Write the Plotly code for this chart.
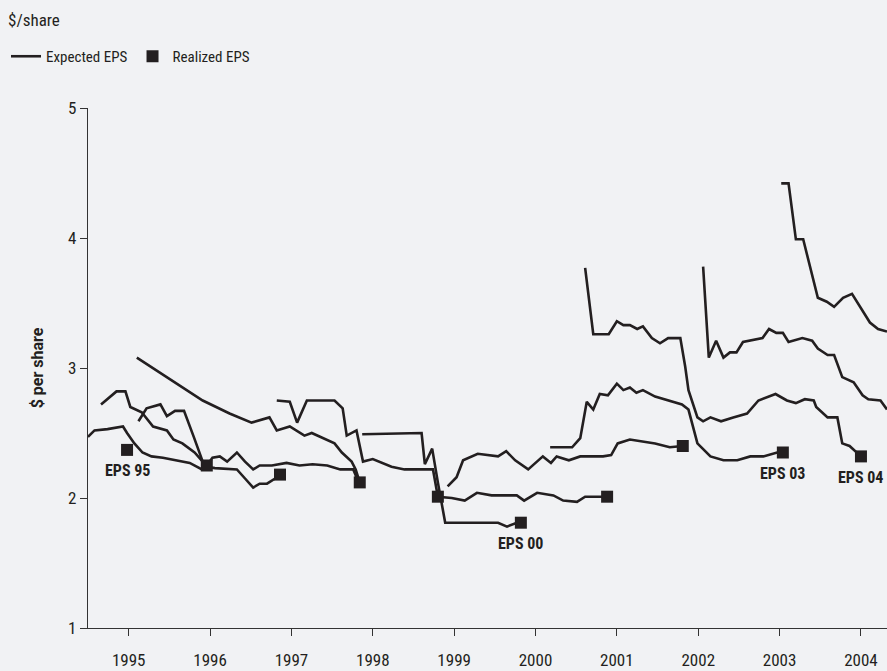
import plotly.graph_objects as go

# ---- Expected EPS forecast paths (x = time in years, y = $ per share) ----
a_x = [1994.50, 1994.58, 1994.74, 1994.93, 1994.98, 1995.07, 1995.17, 1995.28, 1995.42, 1995.59, 1995.75, 1995.90, 1995.96]
a_y = [2.47, 2.52, 2.53, 2.55, 2.50, 2.42, 2.35, 2.32, 2.31, 2.29, 2.27, 2.22, 2.25]

b_x = [1994.66, 1994.85, 1994.96, 1995.02, 1995.16, 1995.30, 1995.47, 1995.55, 1995.66, 1995.81, 1995.91, 1995.96,
       1996.06, 1996.33, 1996.43, 1996.53, 1996.61, 1996.70, 1996.80, 1996.86]
b_y = [2.72, 2.82, 2.82, 2.70, 2.66, 2.55, 2.52, 2.45, 2.42, 2.35, 2.28, 2.24,
       2.23, 2.22, 2.15, 2.08, 2.11, 2.11, 2.15, 2.18]

c_x = [1995.12, 1995.22, 1995.39, 1995.47, 1995.57, 1995.68, 1995.80, 1995.91, 1995.96, 1996.03, 1996.12, 1996.21,
       1996.33, 1996.43, 1996.53, 1996.61, 1996.76, 1996.94, 1997.10, 1997.26, 1997.44, 1997.60, 1997.76, 1997.80, 1997.84]
c_y = [2.59, 2.69, 2.72, 2.63, 2.67, 2.67, 2.47, 2.28, 2.25, 2.31, 2.32, 2.28,
       2.35, 2.28, 2.22, 2.25, 2.25, 2.27, 2.25, 2.26, 2.25, 2.22, 2.22, 2.16, 2.12]

d_x = [1995.10, 1995.91, 1996.24, 1996.51, 1996.73, 1996.82, 1996.98, 1997.16, 1997.25, 1997.53, 1997.62, 1997.74, 1997.79, 1997.84]
d_y = [3.08, 2.75, 2.65, 2.58, 2.62, 2.52, 2.55, 2.48, 2.50, 2.42, 2.35, 2.28, 2.22, 2.12]

e_x = [1996.82, 1996.98, 1997.07, 1997.19, 1997.53, 1997.63, 1997.68, 1997.80, 1997.88, 1998.00, 1998.23, 1998.39,
       1998.74, 1998.80, 1998.97, 1999.13, 1999.28, 1999.46, 1999.77, 1999.86, 2000.02, 2000.22, 2000.34, 2000.51,
       2000.61, 2000.88]
e_y = [2.75, 2.74, 2.58, 2.75, 2.75, 2.69, 2.48, 2.52, 2.28, 2.30, 2.24, 2.22,
       2.22, 2.01, 2.00, 1.98, 2.04, 2.02, 2.02, 1.98, 2.04, 2.02, 1.98, 1.97,
       2.01, 2.01]

f_x = [1997.87, 1998.60, 1998.64, 1998.73, 1998.80, 1998.89, 1999.54, 1999.65, 1999.77, 1999.82]
f_y = [2.49, 2.50, 2.26, 2.38, 2.12, 1.81, 1.81, 1.78, 1.81, 1.81]

h_x = [1998.92, 1999.03, 1999.11, 1999.29, 1999.54, 1999.64, 1999.75, 1999.91, 2000.09, 2000.19, 2000.26, 2000.41,
       2000.55, 2000.83, 2000.93, 2001.01, 2001.16, 2001.47, 2001.65, 2001.81]
h_y = [2.09, 2.16, 2.29, 2.34, 2.32, 2.36, 2.29, 2.22, 2.32, 2.27, 2.32, 2.29,
       2.32, 2.32, 2.33, 2.42, 2.45, 2.42, 2.39, 2.40]

j_x = [2000.18, 2000.45, 2000.55, 2000.63, 2000.71, 2000.79, 2000.89, 2001.00, 2001.08, 2001.16, 2001.24, 2001.32,
       2001.47, 2001.62, 2001.80, 2001.88, 2001.99, 2002.15, 2002.31, 2002.48, 2002.64, 2002.80, 2002.97, 2003.04]
j_y = [2.39, 2.39, 2.46, 2.74, 2.68, 2.80, 2.79, 2.88, 2.83, 2.85, 2.81, 2.83,
       2.78, 2.75, 2.72, 2.68, 2.42, 2.32, 2.29, 2.29, 2.32, 2.32, 2.35, 2.35]

i_x = [2000.61, 2000.71, 2000.90, 2001.00, 2001.08, 2001.16, 2001.25, 2001.32, 2001.43, 2001.53, 2001.63, 2001.78,
       2001.84, 2001.88, 2001.99, 2002.06, 2002.15, 2002.28, 2002.43, 2002.60, 2002.74, 2002.95, 2003.09, 2003.20,
       2003.31, 2003.42, 2003.45, 2003.59, 2003.71, 2003.77, 2003.86, 2003.95, 2004.00]
i_y = [3.77, 3.26, 3.26, 3.36, 3.33, 3.33, 3.30, 3.32, 3.23, 3.19, 3.23, 3.23,
       3.01, 2.83, 2.62, 2.59, 2.62, 2.59, 2.62, 2.65, 2.75, 2.80, 2.75, 2.73,
       2.76, 2.75, 2.70, 2.62, 2.62, 2.42, 2.40, 2.35, 2.32]

k_x = [2002.06, 2002.13, 2002.22, 2002.31, 2002.39, 2002.47, 2002.55, 2002.79, 2002.87, 2002.96, 2003.04, 2003.11,
       2003.28, 2003.40, 2003.47, 2003.59, 2003.67, 2003.77, 2003.91, 2004.02, 2004.09, 2004.24, 2004.32]
k_y = [3.78, 3.08, 3.21, 3.08, 3.12, 3.12, 3.20, 3.23, 3.30, 3.27, 3.27, 3.20,
       3.23, 3.21, 3.15, 3.10, 3.10, 2.93, 2.89, 2.79, 2.76, 2.75, 2.68]

l_x = [2003.02, 2003.11, 2003.20, 2003.29, 2003.47, 2003.58, 2003.67, 2003.78, 2003.89, 2004.11, 2004.21, 2004.32]
l_y = [4.42, 4.42, 3.99, 3.99, 3.54, 3.51, 3.47, 3.54, 3.57, 3.35, 3.30, 3.28]

expected_paths = [(a_x, a_y), (b_x, b_y), (c_x, c_y), (d_x, d_y), (e_x, e_y), (f_x, f_y),
                  (h_x, h_y), (j_x, j_y), (i_x, i_y), (k_x, k_y), (l_x, l_y)]

# ---- Realized EPS ----
realized_x = [1994.98, 1995.96, 1996.86, 1997.84, 1998.80, 1999.82, 2000.88, 2001.81, 2003.04, 2004.00]
realized_y = [2.37, 2.25, 2.18, 2.12, 2.01, 1.81, 2.01, 2.40, 2.35, 2.32]
realized_names = ["EPS 95", "EPS 96", "EPS 97", "EPS 98", "EPS 99", "EPS 00", "EPS 01", "EPS 02", "EPS 03", "EPS 04"]
labelled = ["EPS 95", "EPS 00", "EPS 03", "EPS 04"]

tick_years = [1995, 1996, 1997, 1998, 1999, 2000, 2001, 2002, 2003, 2004]
y_ticks = [1, 2, 3, 4, 5]

INK = "#231f20"
BG = "#f1f2f4"
FONT = "Roboto Condensed, Liberation Sans Narrow, Roboto, Open Sans, sans-serif"
BOLD_FONT = "Roboto, Open Sans, sans-serif"

fig = go.Figure()
for n, (xs, ys) in enumerate(expected_paths):
    fig.add_trace(go.Scatter(
        x=xs, y=ys, mode="lines",
        line=dict(color=INK, width=2.6),
        name="Expected EPS", showlegend=(n == 0), legendgroup="exp",
        hoverinfo="skip"))

fig.add_trace(go.Scatter(
    x=realized_x, y=realized_y, mode="markers",
    marker=dict(symbol="square", size=12, color=INK, line=dict(width=0)),
    name="Realized EPS", text=realized_names, hoverinfo="text+y"))

for nm, xv, yv in zip(realized_names, realized_x, realized_y):
    if nm in labelled:
        fig.add_annotation(x=xv, y=yv, text="<b>" + nm + "</b>", showarrow=False,
                           yshift=-21, font=dict(size=16, color=INK, family=FONT))

fig.add_annotation(text="$/share", xref="paper", yref="paper", x=-82/799, y=1 + 88/520,
                   xanchor="left", yanchor="middle", showarrow=False,
                   font=dict(size=17, color=INK, family=FONT))

fig.update_layout(
    width=887, height=671,
    paper_bgcolor=BG, plot_bgcolor=BG,
    margin=dict(l=88, r=0, t=108, b=43),
    font=dict(family=FONT, color=INK, size=14),
    showlegend=True,
    legend=dict(orientation="h", xref="container", yref="container",
                x=6/887, y=1 - 40/671, xanchor="left", yanchor="top",
                font=dict(size=15, color=INK, family=FONT),
                bgcolor="rgba(0,0,0,0)", itemwidth=30, tracegroupgap=0),
    xaxis=dict(range=[1994.5, 2004.32], tickmode="array", tickvals=tick_years,
               ticktext=[str(t) for t in tick_years],
               showgrid=False, zeroline=False, showline=True, linecolor="#333333", linewidth=1.2,
               ticks="outside", ticklen=7, tickcolor="#333333", tickwidth=1,
               ticklabelstandoff=9, tickfont=dict(size=17, family=FONT, color=INK)),
    yaxis=dict(range=[1, 5], tickmode="array", tickvals=y_ticks,
               showgrid=False, zeroline=False, showline=True, linecolor="#333333", linewidth=1.2,
               ticks="outside", ticklen=7, tickcolor="#333333", tickwidth=1,
               tickfont=dict(size=17, family=FONT, color=INK),
               title=dict(text="<b>$ per share</b>", font=dict(size=16, family=BOLD_FONT, color=INK), standoff=20)),
)

fig.write_html("out.html", config={"displayModeBar": False},
               post_script="document.body.style.margin='0px';document.body.style.overflow='hidden';")
